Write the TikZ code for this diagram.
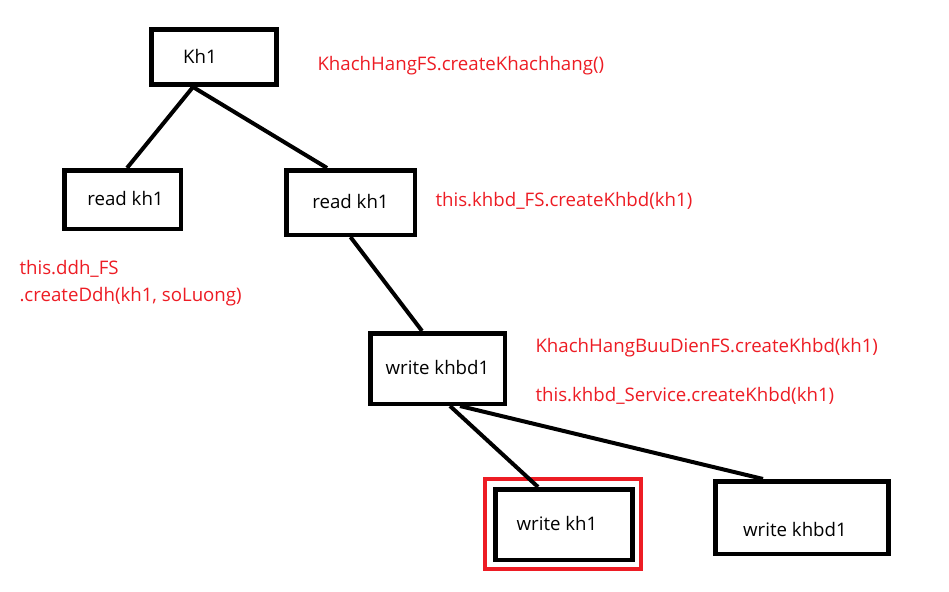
\documentclass[tikz,border=0pt]{standalone}
\usepackage{fontspec}
\setmainfont{Open Sans}
\definecolor{paintred}{RGB}{237,28,36}

\tikzset{every picture/.style={line width=0.75pt}}
\tikzset{
  box/.style={draw, line width=3.4pt, inner sep=0pt, text height=9.7pt, text depth=0pt, font=\fontsize{14pt}{16pt}\selectfont},
  call/.style={text=paintred, inner sep=0pt, anchor=base west, align=left, font=\fontsize{14pt}{20.6pt}\selectfont},
  link/.style={line width=3pt}
}

\begin{document}
\begin{tikzpicture}[x=0.75pt,y=0.75pt,yscale=-1,xscale=1]
%set diagram left start at 0, and has height of 592
\useasboundingbox (0,0) rectangle (949,592);

%Shape: Rectangle [id:dp4172] 
\draw (214,57) node [box, minimum width=94.1pt, minimum height=41.6pt] (kh1) {Kh1\hspace*{21pt}};
%Shape: Rectangle [id:dp8830] 
\draw (122.5,199.5) node [box, minimum width=87.4pt, minimum height=43.9pt] (readA) {\hspace*{4.5pt}read kh1};
%Shape: Rectangle [id:dp2519] 
\draw (350.5,202.5) node [box, minimum width=96.4pt, minimum height=48.4pt] (readB) {read kh1};
%Shape: Rectangle [id:dp6093] 
\draw (437.5,368.5) node [box, minimum width=100.9pt, minimum height=52.9pt] (writeA) {write khbd1};
%Shape: Rectangle [id:dp1376] 
\draw (564,524.5) node [box, minimum width=103.1pt, minimum height=52.9pt] (writeB) {write kh1\hspace*{10.5pt}};
%Shape: Rectangle [id:dp7745] 
\draw (802,517.5) node [box, minimum width=130.1pt, minimum height=54.4pt] (writeC) {\raisebox{-9.4pt}{write khbd1}\hspace*{10.5pt}};
%Shape: Rectangle [id:dp3058] 
\draw (563,524) node [draw=paintred, line width=3pt, minimum width=117pt, minimum height=67.5pt] (hl) {};

%Straight Lines [id:da5521] 
\draw [link] ([xshift=-15.75pt]kh1.south) -- ([xshift=3.4pt]readA.north) ;
%Straight Lines [id:da1964] 
\draw [link] ([xshift=-15.75pt]kh1.south) -- ([xshift=-17.6pt]readB.north) ;
%Straight Lines [id:da7302] 
\draw [link] (readB.south) -- ([xshift=-11.6pt]writeA.north) ;
%Straight Lines [id:da3487] 
\draw [link] ([xshift=9.4pt]writeA.south) -- ([xshift=-19.5pt]writeB.north) ;
%Straight Lines [id:da6610] 
\draw [link] ([xshift=16.9pt]writeA.south) -- ([xshift=-29.25pt]writeC.north) ;

% Text Node
\draw (317,70) node [call] (c1) {KhachHangFS.createKhachhang()};
% Text Node
\draw (435,206) node [call] (c2) {this.khbd\_FS.createKhbd(kh1)};
% Text Node
\draw (19,301.5) node [call] (c3) {this.ddh\_FS\\.createDdh(kh1, soLuong)};
% Text Node
\draw (535,352) node [call] (c4) {KhachHangBuuDienFS.createKhbd(kh1)};
% Text Node
\draw (535,401.5) node [call] (c5) {this.khbd\_Service.createKhbd(kh1)};

\end{tikzpicture}
\end{document}
